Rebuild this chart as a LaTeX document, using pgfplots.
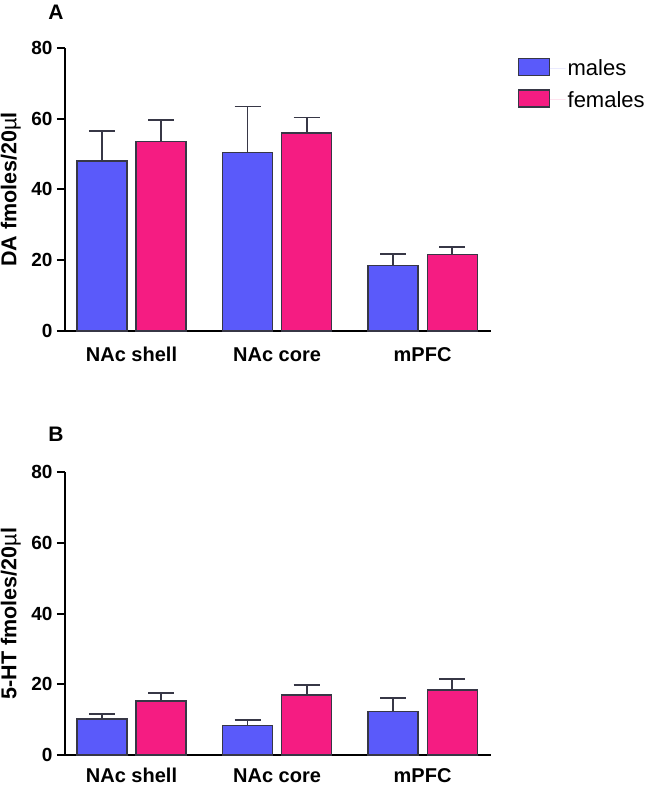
\documentclass[border=0pt]{standalone}
\usepackage{pgfplots}
\pgfplotsset{compat=1.18}
\usepackage{fontspec}
\setmainfont{Liberation Sans}
\definecolor{mblue}{RGB}{90,90,250}
\definecolor{fpink}{RGB}{245,28,130}
\definecolor{edge}{RGB}{55,55,70}
\pgfplotsset{
  panel/.style={
    scale only axis, width=426pt, height=283.3pt,
    xmin=-0.457, xmax=2.47, ymin=0, ymax=80,
    axis lines=left, axis line style={-, line width=2.2pt, black},
    ytick={0,20,40,60,80}, xtick={0,1,2},
    xticklabels={NAc shell, NAc core, mPFC},
    major x tick style={draw=none},
    tick align=outside, major tick length=8pt,
    major y tick style={line width=2pt, black},
    /pgf/number format/assume math mode=true,
    yticklabel style={font=\fontsize{19}{22}\selectfont\bfseries, xshift=-1pt},
    xticklabel style={font=\fontsize{20}{22}\selectfont\bfseries, inner sep=0pt, anchor=base},
    ylabel style={at={(axis description cs:-0.127,0.5)}, anchor=center, font=\fontsize{21.5}{24}\selectfont\bfseries},
    ybar=0pt, bar width=0.344,
    clip=false,
  },
  mbar/.style={draw=edge, line width=1.2pt, fill=mblue, bar shift=-0.203,
    /pgfplots/error bars/.cd, y dir=plus, y explicit,
    error bar style={line width=1.8pt, color=edge},
    error mark options={rotate=90, mark size=13pt, line width=1.8pt, color=edge},
    /pgfplots/.cd},
  fbar/.style={draw=edge, line width=1.2pt, fill=fpink, bar shift=0.203,
    /pgfplots/error bars/.cd, y dir=plus, y explicit,
    error bar style={line width=1.8pt, color=edge},
    error mark options={rotate=90, mark size=13pt, line width=1.8pt, color=edge},
    /pgfplots/.cd},
}
\begin{document}
\begin{tikzpicture}
\useasboundingbox (0,0) rectangle (645pt,786pt);
\begin{axis}[panel, at={(65pt,455pt)}, anchor=south west,
  xticklabel style={yshift=-23pt},
  ylabel={DA fmoles/20{\mdseries µ}l},
  legend style={at={(rel axis cs:1.063,0.965)}, anchor=north west, draw=none, fill=none,
    font=\fontsize{22}{25}\selectfont, inner sep=0pt, row sep=10pt},
  legend cell align=left]
\addplot+[legend image code/.code={\draw[draw=edge, line width=1.2pt, fill=mblue] (0pt,-7pt) rectangle (31pt,10pt); \path[draw=none] (0pt,0pt) -- (47pt,0pt);}, mbar]
  coordinates {(0,48.0) +- (0,8.5) (1,50.4) +- (0,13.0) (2,18.5) +- (0,3.2)};
\addplot+[legend image code/.code={\draw[draw=edge, line width=1.2pt, fill=fpink] (0pt,-7pt) rectangle (31pt,10pt); \path[draw=none] (0pt,0pt) -- (47pt,0pt);}, fbar]
  coordinates {(0,53.5) +- (0,6.0) (1,55.9) +- (0,4.4) (2,21.5) +- (0,2.3)};
\legend{males, females}
\end{axis}
\begin{axis}[panel, at={(65pt,31pt)}, anchor=south west, height=282.7pt,
  xticklabel style={yshift=-20pt},
  ylabel={5-HT fmoles/20{\mdseries µ}l}]
\addplot+[mbar] coordinates {(0,10.2) +- (0,1.5) (1,8.3) +- (0,1.7) (2,12.4) +- (0,3.7)};
\addplot+[fbar] coordinates {(0,15.3) +- (0,2.2) (1,17.0) +- (0,2.8) (2,18.4) +- (0,3.1)};
\end{axis}
\node[font=\fontsize{21}{24}\selectfont\bfseries] at (56pt,773.5pt) {A};
\node[font=\fontsize{21}{24}\selectfont\bfseries] at (56pt,352pt) {B};
\end{tikzpicture}
\end{document}
